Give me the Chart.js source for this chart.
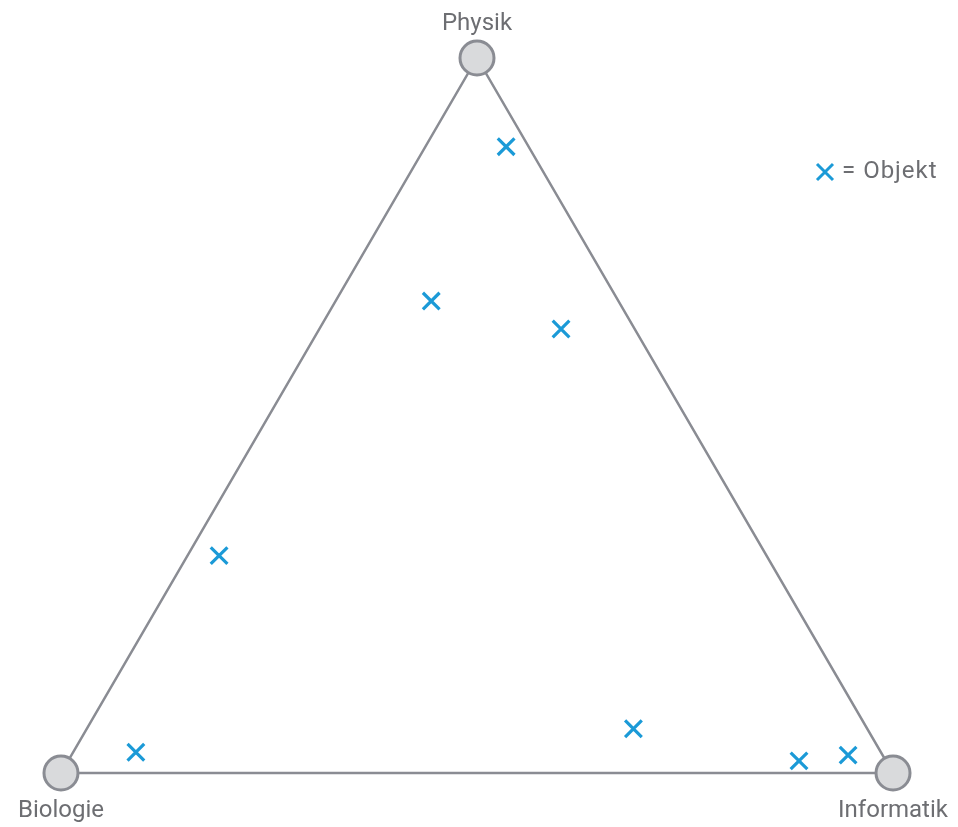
<!DOCTYPE html>
<html lang="de">
<head>
  <meta charset="UTF-8">
  <title>Physik – Biologie – Informatik</title>
  <script src="https://cdn.jsdelivr.net/npm/chart.js"></script>
  <style>
    html, body {
      margin: 0;
      padding: 0;
      background: #fff;
    }
    #wrap {
      width: 958px;
      height: 827px;
      position: relative;
    }
  </style>
</head>
<body>
  <div id="wrap"><canvas id="triangleChart"></canvas></div>

  <script>
    // Ecken des Dreiecks (x: Biologie 0 -> Informatik 100, y: Grundlinie 0 -> Spitze 100)
    const vertexNames = ['Biologie', 'Physik', 'Informatik'];
    const vertexX = [0, 50, 100];
    const vertexY = [0, 100, 0];

    // Objekte
    const objectX = [53.5, 44.5, 60.1, 19.0, 9.0, 68.8, 88.7, 94.6];
    const objectY = [87.6, 66.0, 62.1, 30.4, 2.9, 6.2, 1.7, 2.5];

    const legendText = '= Objekt';

    const lineGrey = '#8a8c93';
    const textGrey = '#6d6e72';
    const crossBlue = '#1b9ad7';

    const outline = vertexX.map((x, i) => ({ x, y: vertexY[i] }));
    outline.push(outline[0]);
    const vertices = vertexX.map((x, i) => ({ x, y: vertexY[i] }));
    const objects = objectX.map((x, i) => ({ x, y: objectY[i] }));

    const labelPlugin = {
      id: 'labels',
      afterDraw(chart) {
        const ctx = chart.ctx;
        const xs = chart.scales.x;
        const ys = chart.scales.y;
        ctx.save();
        ctx.font = '24px Roboto';
        ctx.fillStyle = textGrey;
        ctx.textAlign = 'center';
        ctx.textBaseline = 'alphabetic';
        vertexNames.forEach((name, i) => {
          const px = xs.getPixelForValue(vertexX[i]);
          const py = ys.getPixelForValue(vertexY[i]);
          const dy = vertexY[i] > 50 ? -28 : 44;
          ctx.fillText(name, px, py + dy);
        });

        // Legende
        const lx = 825, ly = 172, h = 8;
        ctx.strokeStyle = crossBlue;
        ctx.lineWidth = 3;
        ctx.beginPath();
        ctx.moveTo(lx - h, ly - h); ctx.lineTo(lx + h, ly + h);
        ctx.moveTo(lx - h, ly + h); ctx.lineTo(lx + h, ly - h);
        ctx.stroke();
        ctx.textAlign = 'left';
        ctx.letterSpacing = '1px';
        ctx.fillText(legendText, 842, 178);
        ctx.restore();
      }
    };

    new Chart(document.getElementById('triangleChart'), {
      type: 'scatter',
      data: {
        datasets: [
          {
            type: 'line',
            data: outline,
            borderColor: lineGrey,
            borderWidth: 2.5,
            pointRadius: 0,
            fill: false,
            order: 3
          },
          {
            data: vertices,
            pointStyle: 'circle',
            pointRadius: 17,
            backgroundColor: '#d9dadc',
            borderColor: lineGrey,
            borderWidth: 3,
            order: 2
          },
          {
            data: objects,
            pointStyle: 'crossRot',
            pointRadius: 11.8,
            borderColor: crossBlue,
            borderWidth: 3.2,
            order: 1
          }
        ]
      },
      options: {
        responsive: true,
        maintainAspectRatio: false,
        animation: false,
        layout: { padding: 0, autoPadding: false },
        clip: false,
        scales: {
          x: { type: 'linear', min: -7.33, max: 107.81, display: false },
          y: { type: 'linear', min: -7.55, max: 108.11, display: false }
        },
        plugins: {
          legend: { display: false },
          tooltip: { enabled: false }
        }
      },
      plugins: [labelPlugin]
    });
  </script>
</body>
</html>
